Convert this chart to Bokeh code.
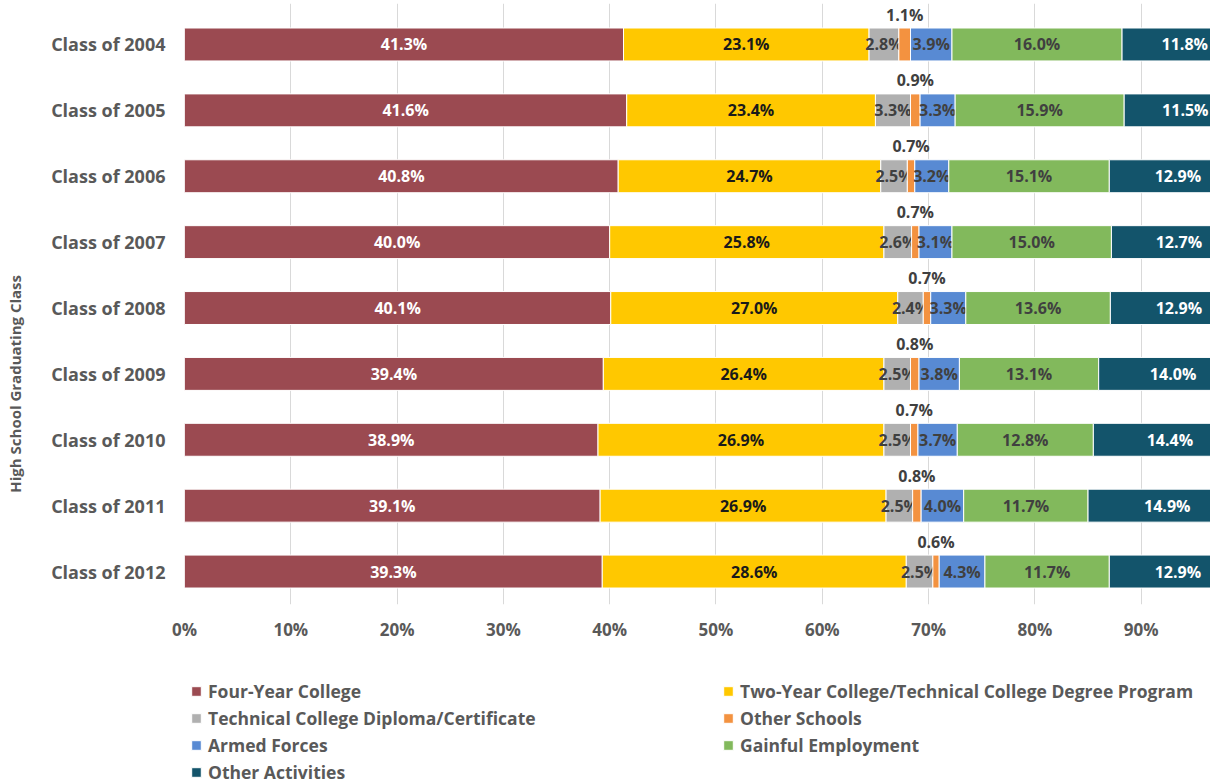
from bokeh.plotting import figure
from bokeh.layouts import column
from bokeh.models import (Range1d, FixedTicker, PrintfTickFormatter, Legend, LegendItem,
                          LinearAxis, ColumnDataSource)
from bokeh.core.properties import value
from bokeh.embed import file_html
from bokeh.resources import INLINE

classes = ["Class of 2004", "Class of 2005", "Class of 2006", "Class of 2007", "Class of 2008",
           "Class of 2009", "Class of 2010", "Class of 2011", "Class of 2012"]
four_year = [41.3, 41.6, 40.8, 40.0, 40.1, 39.4, 38.9, 39.1, 39.3]
two_year = [23.1, 23.4, 24.7, 25.8, 27.0, 26.4, 26.9, 26.9, 28.6]
tech_diploma = [2.8, 3.3, 2.5, 2.6, 2.4, 2.5, 2.5, 2.5, 2.5]
other_schools = [1.1, 0.9, 0.7, 0.7, 0.7, 0.8, 0.7, 0.8, 0.6]
armed_forces = [3.9, 3.3, 3.2, 3.1, 3.3, 3.8, 3.7, 4.0, 4.3]
employment = [16.0, 15.9, 15.1, 15.0, 13.6, 13.1, 12.8, 11.7, 11.7]
other_activities = [11.8, 11.5, 12.9, 12.7, 12.9, 14.0, 14.4, 14.9, 12.9]

series_names = ["Four-Year College", "Two-Year College/Technical College Degree Program",
                "Technical College Diploma/Certificate", "Other Schools", "Armed Forces",
                "Gainful Employment", "Other Activities"]
series_values = [four_year, two_year, tech_diploma, other_schools, armed_forces, employment, other_activities]
series_colors = ["#9B4A51", "#FFC800", "#B0B0B0", "#F39240", "#588AD3", "#82B95C", "#13546B"]
label_colors = ["white", "#1A1A1A", "#404040", "#404040", "#404040", "#404040", "white"]
x_ticks = [0, 10, 20, 30, 40, 50, 60, 70, 80, 90]
y_title = "High School Graduating Class"

FONT = "Open Sans"
GREY = "#595959"

n = len(classes)
ypos = [n - 1 - i for i in range(n)]

p = figure(frame_width=1026, frame_height=601, min_border_left=184, min_border_right=0,
           min_border_top=3, min_border_bottom=41, output_backend="svg", toolbar_location=None,
           x_range=Range1d(0, 96.52), y_range=Range1d(-0.5, 8.622))
p.outline_line_color = None
p.ygrid.grid_line_color = None
p.xgrid.grid_line_color = "#D9D9D9"
p.xgrid.grid_line_width = 1
p.xgrid.ticker = FixedTicker(ticks=x_ticks)

p.xaxis.ticker = FixedTicker(ticks=x_ticks)
p.xaxis.formatter = PrintfTickFormatter(format="%d%%")
p.yaxis.ticker = FixedTicker(ticks=ypos)
p.yaxis.major_label_overrides = {y: c for y, c in zip(ypos, classes)}

# outer left axis carrying only the axis title; trailing no-break spaces
# move the visible words lower, as in the original
title_axis = LinearAxis(ticker=FixedTicker(ticks=[]), axis_label=y_title + "\u00a0" * 41,
                        axis_label_standoff=24, axis_label_text_font=FONT,
                        axis_label_text_font_style="bold", axis_label_text_font_size="15px",
                        axis_label_text_color=GREY)
p.add_layout(title_axis, "left")

for ax in (p.xaxis[0], p.yaxis[0], title_axis):
    ax.axis_line_color = None
    ax.major_tick_line_color = None
    ax.minor_tick_line_color = None
    ax.major_tick_out = 0
    ax.major_tick_in = 0
    ax.minor_tick_out = 0
    ax.minor_tick_in = 0
    ax.major_label_text_font = FONT
    ax.major_label_text_font_style = "bold"
    ax.major_label_text_color = GREY
p.xaxis.major_label_text_font_size = "17px"
p.xaxis.major_label_standoff = 13
p.yaxis[0].major_label_text_font_size = "18px"
p.yaxis[0].major_label_standoff = 19

left = [0.0] * n
sources = []
for name, vals, col, lcol in zip(series_names, series_values, series_colors, label_colors):
    right = [l + v for l, v in zip(left, vals)]
    src = ColumnDataSource(dict(y=ypos, left=left, right=right))
    sources.append(src)
    p.hbar(y="y", left="left", right="right", height=0.5, source=src,
           fill_color=col, line_color="white", line_width=1)
    centers = [(l + rr) / 2 for l, rr in zip(left, right)]
    texts = [f"{v:.1f}%" for v in vals]
    if name == "Other Schools":
        ly = [y + 0.455 for y in ypos]
    else:
        ly = ypos
    p.text(x=centers, y=ly, text=texts, text_align="center", text_baseline="middle",
           text_font=value(FONT), text_font_style="bold", text_font_size="16px", text_color=lcol)
    left = right

# legend strip below the chart (its ranges keep the bars themselves out of view)
leg = figure(width=1210, height=135, min_border=0, output_backend="svg", toolbar_location=None,
             x_axis_type=None, y_axis_type=None, x_range=Range1d(0, 100), y_range=Range1d(100, 101))
leg.outline_line_color = None
leg.background_fill_alpha = 0
leg_items = []
for name, col, src in zip(series_names, series_colors, sources):
    r = leg.hbar(y="y", left="left", right="right", height=0.5, source=src,
                 fill_color=col, line_color="white", line_width=1)
    leg_items.append(LegendItem(label=name, renderers=[r]))

def make_legend(its, loc):
    return Legend(items=its, location=loc, padding=0, margin=0, spacing=3,
                  glyph_width=12, glyph_height=12, label_height=20, label_standoff=6,
                  label_text_font=FONT, label_text_font_style="bold", label_text_font_size="17.5px",
                  label_text_color=GREY, border_line_color=None, background_fill_alpha=0)

leg.add_layout(make_legend(leg_items[0::2], (6, -4)))
leg.add_layout(make_legend(leg_items[1::2], (538, 23)))

open("out.html", "w").write(file_html(column(p, leg, spacing=0), INLINE))
